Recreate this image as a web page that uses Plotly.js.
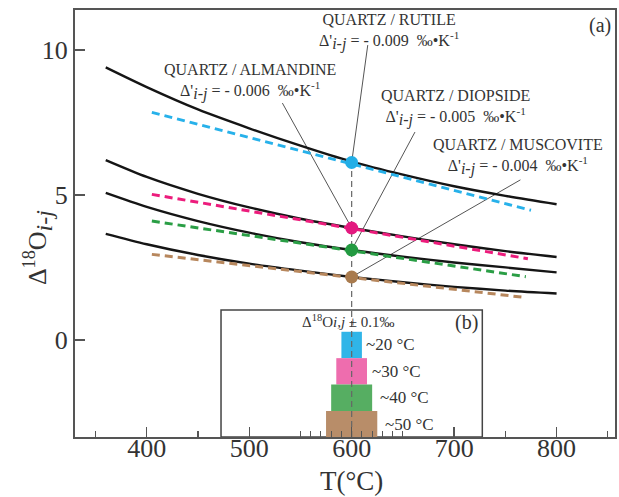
<!DOCTYPE html>
<html>
<head>
<meta charset="utf-8">
<script src="https://cdn.plot.ly/plotly-3.0.1.min.js"></script>
<style>
  html, body { margin: 0; padding: 0; background: #fff; }
  #chart { width: 619px; height: 497px; }
</style>
</head>
<body>
<div id="chart"></div>
<script>
// Temperatures (°C) at which the fractionation curves are tabulated
const curveT = [360, 400, 450, 500, 550, 600, 650, 700, 750, 800];
// Δ18O(quartz - mineral) fractionation curves, ‰
const rutileCurve     = [9.40, 8.72, 7.95, 7.30, 6.70, 6.15, 5.70, 5.30, 4.97, 4.68];
const almandineCurve  = [6.20, 5.62, 5.04, 4.57, 4.18, 3.86, 3.57, 3.30, 3.06, 2.86];
const diopsideCurve   = [5.07, 4.59, 4.10, 3.70, 3.37, 3.10, 2.87, 2.67, 2.50, 2.33];
const muscoviteCurve  = [3.66, 3.30, 2.93, 2.63, 2.39, 2.17, 1.99, 1.83, 1.70, 1.60];

// Tangent lines (slope Δ' at 600 °C), end points
const rutileTangentT    = [405, 775];
const rutileTangent     = [7.85, 4.47];
const almandineTangentT = [405, 772];
const almandineTangent  = [5.02, 2.80];
const diopsideTangentT  = [405, 770];
const diopsideTangent   = [4.10, 2.18];
const muscoviteTangentT = [405, 770];
const muscoviteTangent  = [2.95, 1.46];

// Equilibrium points at 600 °C
const pointT = 600;
const pointValues = [6.12, 3.86, 3.10, 2.17];
const pairNames = ['QUARTZ / RUTILE', 'QUARTZ / ALMANDINE', 'QUARTZ / DIOPSIDE', 'QUARTZ / MUSCOVITE'];
const slopeLabels = ['- 0.009', '- 0.006', '- 0.005', '- 0.004'];

// Temperature uncertainty (°C) for Δ18O ± 0.1‰
const uncertaintyWidths = [20, 30, 40, 50];
const uncertaintyLabels = ['~20 °C', '~30 °C', '~40 °C', '~50 °C'];

const xTickVals = [400, 500, 600, 700, 800];
const yTickVals = [0, 5, 10];

// ---- styling ----
const SERIF = 'Liberation Serif, Times New Roman, Times, serif';
const dashColors = ['#27B1EA', '#EC1C7C', '#2A9E45', '#B7875D'];
const dotColors  = ['#22AEE6', '#E3197F', '#239A41', '#A97B4E'];
const bandColors = ['#30B5E8', '#EE6DAE', '#56AE62', '#B88D69'];
const X_RANGE = [330, 857];
const Y_RANGE = [-3.35, 11.38];

const traces = [];

// Inset (b): stacked uncertainty bands centred on 600 °C
const bandTop = 0.28, bandH = 0.91;
traces.push({
  type: 'bar',
  x: uncertaintyWidths.map(() => pointT),
  y: uncertaintyWidths.map(() => bandH),
  base: uncertaintyWidths.map((_, i) => bandTop - (i + 1) * bandH),
  width: uncertaintyWidths,
  marker: { color: bandColors, line: { width: 0 } },
  hoverinfo: 'skip'
});

// Fractionation curves
[rutileCurve, almandineCurve, diopsideCurve, muscoviteCurve].forEach(c => {
  traces.push({
    type: 'scatter', mode: 'lines', x: curveT, y: c,
    line: { color: '#151515', width: 2.4, shape: 'spline', smoothing: 0.8 },
    hoverinfo: 'skip'
  });
});

// Tangent lines
[[rutileTangentT, rutileTangent], [almandineTangentT, almandineTangent],
 [diopsideTangentT, diopsideTangent], [muscoviteTangentT, muscoviteTangent]].forEach((t, i) => {
  traces.push({
    type: 'scatter', mode: 'lines', x: t[0], y: t[1],
    line: { color: dashColors[i], width: 3, dash: '8px,5px' },
    hoverinfo: 'skip'
  });
});

// Vertical guide at 600 °C
traces.push({
  type: 'scatter', mode: 'lines',
  x: [pointT, pointT], y: [Y_RANGE[0], pointValues[0]],
  line: { color: '#666', width: 1.2, dash: '6px,4px' },
  hoverinfo: 'skip'
});

// Points at 600 °C
traces.push({
  type: 'scatter', mode: 'markers',
  x: pointValues.map(() => pointT), y: pointValues,
  marker: { color: dotColors, size: 13, line: { width: 0 } },
  hoverinfo: 'skip'
});

// Two-line label centres (data coords) and leader-line tails
const labelPos = [
  { x: 636.0, y: 10.63, tail: [615.7, 10.17] },
  { x: 501.0, y: 8.90,  tail: [532.4, 8.17] },
  { x: 701.0, y: 8.00,  tail: [661.8, 7.17] },
  { x: 762.7, y: 6.31,  tail: [764.7, 5.52] }
];

const annotations = [];
const shapes = [];

labelPos.forEach((p, i) => {
  annotations.push({
    x: p.x, y: p.y, xref: 'x', yref: 'y', showarrow: false,
    text: pairNames[i] + "<br>Δ'<sub><i><span style=\"font-size:16px\">i-j</span></i></sub> = " +
          slopeLabels[i] + "\u00a0 ‰•K<sup>-1</sup>",
    font: { family: SERIF, size: 16, color: '#333' },
    align: 'center', xanchor: 'center', yanchor: 'middle', borderpad: 0
  });
  shapes.push({
    type: 'line', xref: 'x', yref: 'y',
    x0: p.tail[0], y0: p.tail[1], x1: pointT, y1: pointValues[i],
    line: { color: '#555', width: 1 }, layer: 'below'
  });
});

// Panel tags
annotations.push({ x: 842, y: 10.84, xref: 'x', yref: 'y', showarrow: false,
  text: '(a)', font: { family: SERIF, size: 20, color: '#333' } });
annotations.push({ x: 712, y: 0.59, xref: 'x', yref: 'y', showarrow: false,
  text: '(b)', font: { family: SERIF, size: 20, color: '#333' } });

// Inset header
annotations.push({ x: 597, y: 0.64, xref: 'x', yref: 'y', showarrow: false,
  text: 'Δ<sup>18</sup>O<i>i,j</i> ± 0.1‰', font: { family: SERIF, size: 15, color: '#333' } });

// Inset band labels
uncertaintyWidths.forEach((w, i) => {
  annotations.push({
    x: pointT + w / 2 + (i < 2 ? 2.5 : 6), y: bandTop - (i + 0.5) * bandH,
    xref: 'x', yref: 'y', showarrow: false, xanchor: 'left', yanchor: 'middle',
    text: uncertaintyLabels[i], font: { family: SERIF, size: 17, color: '#333' }
  });
});

// Inset frame
shapes.push({
  type: 'rect', xref: 'x', yref: 'y', x0: 472.5, x1: 727.5, y0: Y_RANGE[0], y1: 1.03,
  line: { color: '#444', width: 1.5 }, fillcolor: 'rgba(0,0,0,0)', layer: 'below'
});

// Axis titles
annotations.push({
  xref: 'paper', yref: 'paper', x: -0.068, y: 0.443, showarrow: false, textangle: -90,
  text: 'Δ<sup>18</sup>O<sub><i><span style="font-size:24px">i-j</span></i></sub>',
  font: { family: SERIF, size: 26, color: '#333' }, xanchor: 'center', yanchor: 'middle'
});
annotations.push({
  xref: 'x', yref: 'paper', x: 600, y: -0.102, showarrow: false,
  text: 'T(°C)', font: { family: SERIF, size: 27, color: '#333' }, yanchor: 'middle', borderpad: 0
});

const minorX = [350, 450, 550, 560, 570, 580, 590, 610, 620, 630, 640, 650, 750, 850];

const layout = {
  width: 619, height: 497,
  margin: { l: 75, r: 4, t: 10, b: 60 },
  paper_bgcolor: '#fff', plot_bgcolor: '#fff',
  showlegend: false,
  barmode: 'overlay',
  font: { family: SERIF, color: '#333', size: 14 },
  xaxis: {
    range: X_RANGE, tickmode: 'array', tickvals: xTickVals,
    ticks: 'inside', ticklen: 10, tickwidth: 1.3, tickcolor: '#555',
    ticklabelstandoff: -13,
    showgrid: false, zeroline: false,
    showline: true, linecolor: '#555', linewidth: 2, mirror: true,
    tickfont: { family: SERIF, size: 26, color: '#333' },
    minor: { tickmode: 'array', tickvals: minorX, ticks: 'inside', ticklen: 6, tickwidth: 1.1, tickcolor: '#555' }
  },
  yaxis: {
    range: Y_RANGE, tickmode: 'array', tickvals: yTickVals,
    ticks: 'inside', ticklen: 10, tickwidth: 1.3, tickcolor: '#555',
    showgrid: false, zeroline: false,
    showline: true, linecolor: '#555', linewidth: 2, mirror: true,
    tickfont: { family: SERIF, size: 26, color: '#333' }
  },
  annotations: annotations,
  shapes: shapes
};

Plotly.newPlot('chart', traces, layout, { staticPlot: true, displayModeBar: false });
</script>
</body>
</html>
